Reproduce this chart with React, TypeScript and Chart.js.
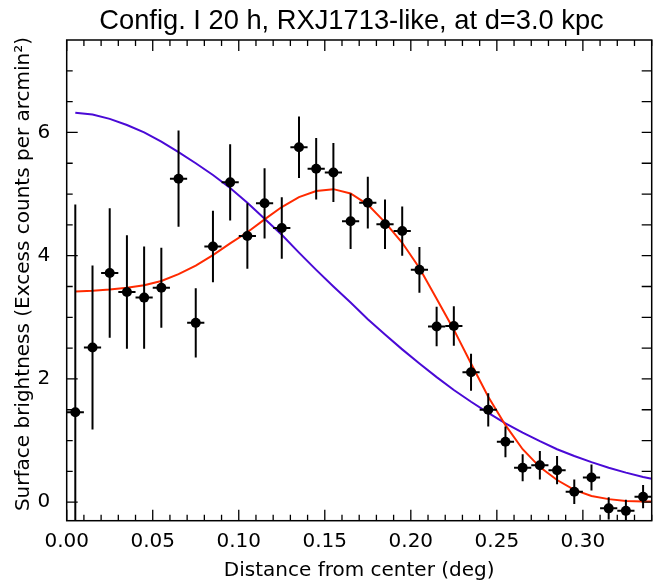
import React, { useEffect, useRef } from "react";
import { Chart, registerables } from "chart.js";

Chart.register(...registerables);

const TITLE = "Config. I 20 h, RXJ1713-like, at d=3.0 kpc";
const X_LABEL = "Distance from center (deg)";
const Y_LABEL = "Surface brightness (Excess counts per arcmin\u00B2)";

const xTicks = [0, 0.05, 0.1, 0.15, 0.2, 0.25, 0.3];
const yTicks = [0, 2, 4, 6];

const binCenters = [
  0.005, 0.015, 0.025, 0.035, 0.045, 0.055, 0.065, 0.075, 0.085, 0.095,
  0.105, 0.115, 0.125, 0.135, 0.145, 0.155, 0.165, 0.175, 0.185, 0.195,
  0.205, 0.215, 0.225, 0.235, 0.245, 0.255, 0.265, 0.275, 0.285, 0.295,
  0.305, 0.315, 0.325, 0.335,
];
const binHalfWidth = 0.005;

const brightness = [
  1.46, 2.51, 3.72, 3.41, 3.32, 3.48, 5.25, 2.91, 4.15, 5.19,
  4.32, 4.85, 4.45, 5.76, 5.41, 5.35, 4.56, 4.86, 4.51, 4.40,
  3.77, 2.85, 2.86, 2.11, 1.50, 0.98, 0.56, 0.60, 0.52, 0.17,
  0.40, -0.10, -0.14, 0.09,
];
const brightnessErr = [
  3.37, 1.33, 1.05, 0.92, 0.83, 0.65, 0.78, 0.56, 0.58, 0.62,
  0.53, 0.57, 0.50, 0.50, 0.50, 0.48, 0.45, 0.42, 0.40, 0.40,
  0.37, 0.32, 0.32, 0.30, 0.27, 0.25, 0.22, 0.23, 0.23, 0.20,
  0.21, 0.18, 0.18, 0.19,
];

const curveX = [
  0.005, 0.015, 0.025, 0.035, 0.045, 0.055, 0.065, 0.075, 0.085, 0.095,
  0.105, 0.115, 0.125, 0.135, 0.145, 0.155, 0.165, 0.175, 0.185, 0.195,
  0.205, 0.215, 0.225, 0.235, 0.245, 0.255, 0.265, 0.275, 0.285, 0.295,
  0.305, 0.315, 0.325, 0.335, 0.34,
];
const redModel = [
  3.42, 3.43, 3.45, 3.48, 3.52, 3.59, 3.70, 3.84, 4.01, 4.20,
  4.38, 4.59, 4.79, 4.95, 5.05, 5.08, 5.01, 4.83, 4.54, 4.21,
  3.80, 3.30, 2.80, 2.25, 1.71, 1.25, 0.86, 0.57, 0.36, 0.20,
  0.10, 0.05, 0.02, 0.01, 0.01,
];
const blueModel = [
  6.32, 6.29, 6.22, 6.12, 6.00, 5.85, 5.68, 5.50, 5.31, 5.10,
  4.86, 4.60, 4.34, 4.05, 3.77, 3.50, 3.24, 2.97, 2.72, 2.48,
  2.25, 2.03, 1.82, 1.63, 1.45, 1.28, 1.13, 0.99, 0.86, 0.75,
  0.65, 0.56, 0.48, 0.41, 0.38,
];

const FONT = "'DejaVu Sans', 'Liberation Sans', Arial, sans-serif";

const errorBarsPlugin = {
  id: "errorBars",
  afterDatasetsDraw(chart: any) {
    const { ctx, chartArea, scales } = chart;
    const xs = scales.x;
    const ys = scales.y;
    ctx.save();
    ctx.beginPath();
    ctx.rect(chartArea.left, chartArea.top, chartArea.right - chartArea.left, chartArea.bottom - chartArea.top);
    ctx.clip();
    ctx.strokeStyle = "#000";
    ctx.lineWidth = 2;
    for (let i = 0; i < binCenters.length; i++) {
      const cx = xs.getPixelForValue(binCenters[i]);
      const cy = ys.getPixelForValue(brightness[i]);
      const y1 = ys.getPixelForValue(brightness[i] + brightnessErr[i]);
      const y2 = ys.getPixelForValue(brightness[i] - brightnessErr[i]);
      const x1 = xs.getPixelForValue(binCenters[i] - binHalfWidth);
      const x2 = xs.getPixelForValue(binCenters[i] + binHalfWidth);
      ctx.beginPath();
      ctx.moveTo(cx, y1);
      ctx.lineTo(cx, y2);
      ctx.moveTo(x1, cy);
      ctx.lineTo(x2, cy);
      ctx.stroke();
    }
    ctx.restore();
  },
};

const framePlugin = {
  id: "frameTicks",
  afterDraw(chart: any) {
    const { ctx, chartArea, scales } = chart;
    const { left, right, top, bottom } = chartArea;
    const xs = scales.x;
    const ys = scales.y;
    ctx.save();
    ctx.strokeStyle = "#000";
    ctx.lineWidth = 1.5;
    ctx.strokeRect(left, top, right - left, bottom - top);
    ctx.lineWidth = 1.3;
    ctx.beginPath();
    for (let i = 0; i <= 34; i++) {
      const v = i / 100;
      const px = xs.getPixelForValue(v);
      const len = i % 5 === 0 ? 11 : 6;
      ctx.moveTo(px, bottom);
      ctx.lineTo(px, bottom - len);
      ctx.moveTo(px, top);
      ctx.lineTo(px, top + len);
    }
    for (let i = 0; i <= 14; i++) {
      const v = i * 0.5;
      const py = ys.getPixelForValue(v);
      const len = i % 4 === 0 ? 11 : 6;
      ctx.moveTo(left, py);
      ctx.lineTo(left + len, py);
      ctx.moveTo(right, py);
      ctx.lineTo(right - 10, py);
    }
    ctx.stroke();
    ctx.fillStyle = "#000";
    ctx.font = "27.3px 'Liberation Sans Narrow', 'Arial Narrow', 'Liberation Sans', sans-serif";
    ctx.textAlign = "center";
    ctx.textBaseline = "alphabetic";
    ctx.fillText(TITLE, 351.5, 28.5);
    // y-axis title
    ctx.font = "20px " + FONT;
    ctx.textAlign = "center";
    ctx.textBaseline = "middle";
    ctx.translate(24, 274);
    ctx.rotate(-Math.PI / 2);
    ctx.fillText(Y_LABEL, 0, 0);
    ctx.restore();
  },
};

export default function App() {
  const ref = useRef<HTMLCanvasElement | null>(null);
  useEffect(() => {
    document.body.style.margin = "0";
    if (!ref.current) return;
    const chart = new Chart(ref.current, {
      type: "scatter",
      data: {
        datasets: [
          {
            label: "data",
            data: binCenters.map((x, i) => ({ x, y: brightness[i] })),
            pointRadius: 5,
            pointHoverRadius: 5,
            backgroundColor: "#000",
            borderColor: "#000",
            borderWidth: 0,
            showLine: false,
          },
          {
            label: "red model",
            data: curveX.map((x, i) => ({ x, y: redModel[i] })),
            showLine: true,
            borderColor: "#ff2a00",
            borderWidth: 2,
            pointRadius: 0,
            tension: 0,
            fill: false,
          },
          {
            label: "blue model",
            data: curveX.map((x, i) => ({ x, y: blueModel[i] })),
            showLine: true,
            borderColor: "#4a0ad6",
            borderWidth: 2,
            pointRadius: 0,
            tension: 0,
            fill: false,
          },
        ],
      },
      options: {
        responsive: false,
        animation: false,
        devicePixelRatio: 1,
        layout: { padding: { top: 40, right: 12.3, left: 0, bottom: 0 } },
        plugins: {
          legend: { display: false },
          tooltip: { enabled: false },
          title: { display: false },
        },
        scales: {
          x: {
            type: "linear",
            min: 0,
            max: 0.34,
            grid: { display: false, drawTicks: false },
            border: { display: false },
            afterBuildTicks: (s: any) => {
              s.ticks = xTicks.map((v) => ({ value: v }));
            },
            afterFit: (s: any) => {
              s.height = 61.3;
            },
            ticks: {
              padding: 9,
              maxRotation: 0,
              autoSkip: false,
              color: "#000",
              font: { family: FONT, size: 20 },
              callback: (v: any) => Number(v).toFixed(2),
            },
            title: {
              display: true,
              text: X_LABEL,
              color: "#000",
              font: { family: FONT, size: 20, lineHeight: 1.15 },
              padding: { top: 0, bottom: 0 },
            },
          },
          y: {
            type: "linear",
            min: -0.3,
            max: 7.5,
            grid: { display: false, drawTicks: false },
            border: { display: false },
            afterBuildTicks: (s: any) => {
              s.ticks = yTicks.map((v) => ({ value: v }));
            },
            afterFit: (s: any) => {
              s.width = 66.7;
            },
            ticks: {
              padding: 16.5,
              color: "#000",
              font: { family: FONT, size: 20 },
              callback: (v: any) => String(v),
            },
            title: { display: false },
          },
        },
      },
      plugins: [errorBarsPlugin, framePlugin],
    });
    return () => chart.destroy();
  }, []);
  return (
    <div style={{ width: 664, height: 582, background: "#fff" }}>
      <canvas ref={ref} width={664} height={582} />
    </div>
  );
}
